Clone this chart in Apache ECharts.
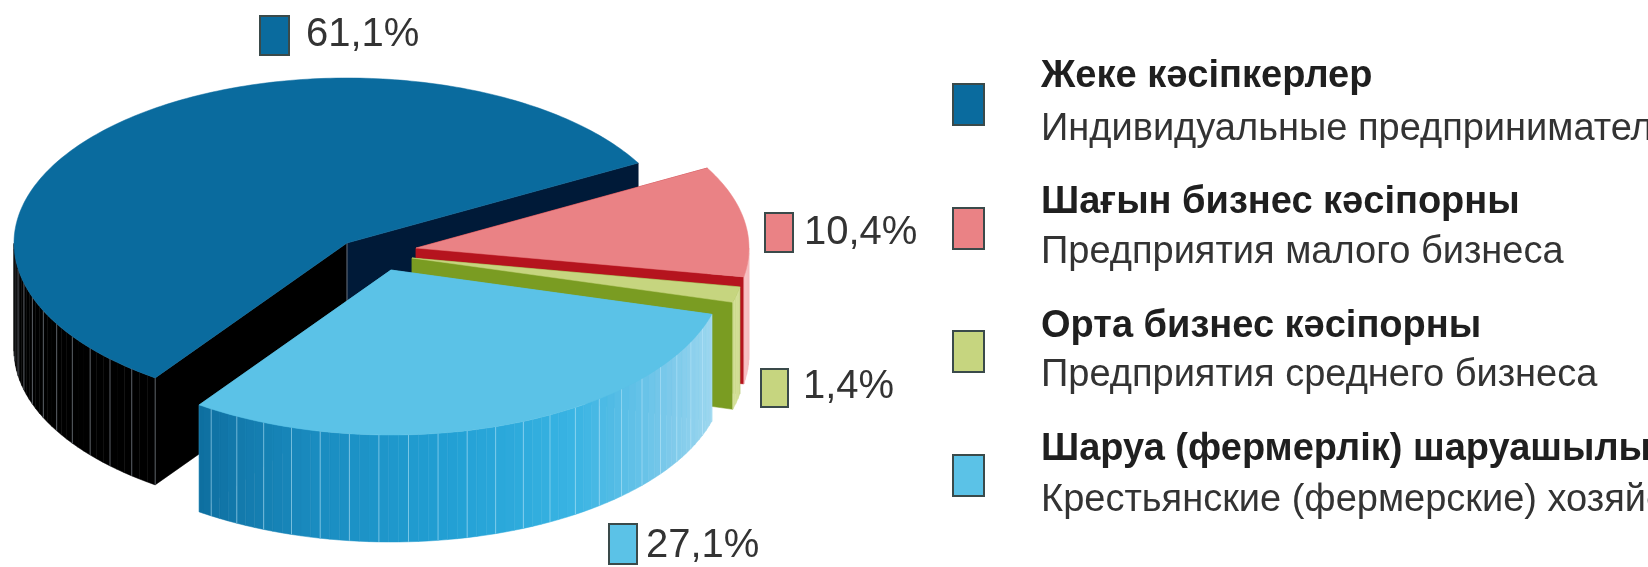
<!DOCTYPE html>
<html>
<head>
<meta charset="utf-8">
<title>Pie</title>
<script src="https://cdn.jsdelivr.net/npm/echarts@6/dist/echarts.min.js"></script>
<style>
    html, body { margin: 0; padding: 0; background: #fff; }
    #chart { width: 1648px; height: 567px; }
</style>
</head>
<body>
<div id="chart"></div>
<script>
    // data, clockwise from the upper right edge of the pink slice
    var names_kk = ['Шағын бизнес кәсіпорны', 'Орта бизнес кәсіпорны', 'Шаруа (фермерлік) шаруашылық', 'Жеке кәсіпкерлер'];
    var names_ru = ['Предприятия малого бизнеса', 'Предприятия среднего бизнеса', 'Крестьянские (фермерские) хозяйства', 'Индивидуальные предприниматели'];
    var shares = [10.4, 1.4, 27.1, 61.1];

    // layout
    var RX = 333, RY = 165, DEPTH = 107;
    var START = -29;
    var centers = [[416, 248], [412, 258], [391, 270], [347, 243]];
    var tops = ['#ea8285', '#c6d57f', '#5bc2e7', '#0a6b9e'];
    var walls = [['#f7bcbf', '#f7bcbf'], ['#d3df97', '#d3df97'], ['#a8dcf1', '#7cc9ea', '#39b4e3', '#22a0d4', '#1a8cc0', '#0e6e9f'], ['#000000', '#000000']];
    var lineColors = [null, null, 'rgba(190,232,250,0.55)', '#5a5f66'];
    var cutStart = ['#b5141e', '#7a9c22', '#5bc2e7', '#000000'];
    var cutEnd = ['#b5141e', '#7a9c22', '#5bc2e7', '#001a38'];

    // swatch + label positions
    var pctBoxes = [[765, 213, 28, 39, 804, 233], [761, 369, 27, 38, 803, 387], [609, 524, 28, 40, 646, 546], [260, 16, 29, 39, 306, 35]];
    var legendRows = [[208, 203, 253], [331, 327, 376], [455, 450, 501], [84, 77, 130]];

    // front of the disc looks wider than the back
    function toAngle(pct) {
        var a = pct * 3.6;
        return START + a + 8 * (1 - Math.cos(a * Math.PI / 180));
    }

    function pt(c, deg, dy) {
        var r = deg * Math.PI / 180;
        return [c[0] + RX * Math.cos(r), c[1] + RY * Math.sin(r) + (dy || 0)];
    }

    function renderSlice(params, api) {
        var i = api.value(0);
        var before = 0;
        for (var k = 0; k < i; k++) before += shares[k];
        var t0 = toAngle(before), t1 = toAngle(before + api.value(1));
        var c = centers[i];
        var kids = [];

        function poly(points, fill) {
            kids.push({ type: 'polygon', shape: { points: points }, style: { fill: fill, stroke: fill, lineWidth: 0.5 } });
        }
        function cut(deg, fill) {
            var p = pt(c, deg);
            poly([c, p, [p[0], p[1] + DEPTH], [c[0], c[1] + DEPTH]], fill);
        }

        cut(t0, cutStart[i]);
        cut(t1, cutEnd[i]);
        if (i === 3) {
            kids.push({ type: 'line', shape: { x1: c[0], y1: c[1], x2: c[0], y2: c[1] + DEPTH }, style: { stroke: '#6b7078', lineWidth: 1 } });
        }

        // outer wall, only where it faces the viewer
        var step = 1.7, n = 0;
        for (var t = Math.max(t0, 0); t < Math.min(t1, 180); t += step, n++) {
            var e = Math.min(t + step, t1, 180);
            var a = pt(c, t), b = pt(c, e);
            var fill = echarts.color.lerp((t - 10) / 115 < 0 ? 0 : Math.min(1, (t - 10) / 115), walls[i]);
            poly([a, b, [b[0], b[1] + DEPTH], [a[0], a[1] + DEPTH]], fill);
            if (lineColors[i] && n % 3 === 0) {
                kids.push({ type: 'line', shape: { x1: a[0], y1: a[1], x2: a[0], y2: a[1] + DEPTH }, style: { stroke: lineColors[i], lineWidth: 1 } });
            }
        }

        // top face
        var top = [c];
        for (var d = t0; d < t1; d += 1) top.push(pt(c, d));
        top.push(pt(c, t1));
        poly(top, tops[i]);

        return { type: 'group', children: kids };
    }

    var graphics = [];
    var FONT = '"Liberation Sans Narrow", "Liberation Sans", sans-serif';

    function swatch(x, y, w, h, fill) {
        graphics.push({ type: 'rect', shape: { x: x, y: y, width: w, height: h }, style: { fill: fill, stroke: '#3a4a4a', lineWidth: 2 } });
    }
    function label(x, y, text, size, weight, color) {
        graphics.push({ type: 'text', x: x, y: y, style: { text: text, font: weight + ' ' + size + 'px ' + FONT, fill: color, textVerticalAlign: 'middle', verticalAlign: 'middle' } });
    }

    shares.forEach(function (v, i) {
        var b = pctBoxes[i];
        swatch(b[0], b[1], b[2], b[3], tops[i]);
        label(b[4], b[5], v.toFixed(1).replace('.', ',') + '%', 40, 'normal', '#333');

        var r = legendRows[i];
        swatch(953, r[0], 31, 41, tops[i]);
        label(1041, r[1], names_kk[i], 38, 'bold', '#1f1f1f');
        label(1041, r[2], names_ru[i], 38, 'normal', '#333');
    });

    var chart = echarts.init(document.getElementById('chart'));
    chart.setOption({
        animation: false,
        backgroundColor: '#fff',
        graphic: graphics,
        series: [{
            type: 'custom',
            coordinateSystem: 'none',
            silent: true,
            renderItem: renderSlice,
            data: [[3, shares[3]], [0, shares[0]], [1, shares[1]], [2, shares[2]]]
        }]
    });
</script>
</body>
</html>
